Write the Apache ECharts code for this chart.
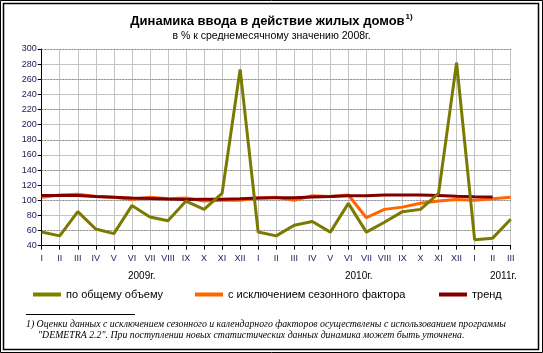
<!DOCTYPE html>
<html>
<head>
<meta charset="utf-8">
<script src="https://cdn.jsdelivr.net/npm/echarts@6/dist/echarts.min.js"></script>
<style>
  html, body { margin: 0; padding: 0; background: #fff; }
  #chart { width: 543px; height: 353px; }
</style>
</head>
<body>
<div id="chart"></div>
<script>
// месяцы 2009 - III 2011
var months = ['I', 'II', 'III', 'IV', 'V', 'VI', 'VII', 'VIII', 'IX', 'X', 'XI', 'XII',
  'I', 'II', 'III', 'IV', 'V', 'VI', 'VII', 'VIII', 'IX', 'X', 'XI', 'XII',
  'I', 'II', 'III']
var years = ['2009г.', '2010г.', '2011г.']
var totalVolume = [58, 53, 85, 62, 56, 93, 78, 73, 99, 88, 109, 273,
  58, 53, 67, 72, 58, 96, 58, 71, 85, 88, 109, 282,
  48, 50, 75]
var seasonAdj = [104, 107, 108, 105, 104, 101, 104, 102, 103, 99, 100, 100,
  103, 104, 100, 106, 105, 107, 77, 88, 91, 96, 99, 101,
  100, 102, 104]
var trend = [106.5, 106.5, 106.5, 105, 104, 103, 102.5, 101.7, 101.2, 101.5, 101.5, 102,
  103, 103.4, 103.5, 104.3, 105, 106, 106, 107, 107, 107, 106.5, 105.5,
  104.8, 104.3, '-']
var yTicks = { min: 40, max: 300, step: 20 }
var dottedLines = [60, 100, 140, 180, 220, 260, 300]

var names = ['по общему объему', 'с исключением сезонного фактора', 'тренд']

;(function () {
  var myChart = echarts.init(document.getElementById('chart'))
  var font = 'Liberation Sans, Arial, sans-serif'
  var serif = 'italic 9.8px Liberation Serif, Times New Roman, serif'

  // по одной легенде на серию, чтобы поставить их как в оригинале
  function legendAt(name, left) {
    return {
      data: [name],
      left: left,
      top: 289,
      padding: 0,
      icon: 'rect',
      itemWidth: 28,
      itemHeight: 4,
      textStyle: { fontSize: 11, color: '#000', fontFamily: font }
    }
  }

  var option = {
    animation: false,
    textStyle: { fontFamily: font },
    title: {
      text: '{t|Динамика ввода в действие жилых домов}{s|1)}',
      subtext: 'в % к среднемесячному значению 2008г.',
      left: 'center',
      top: 8,
      itemGap: 3,
      textStyle: {
        rich: {
          t: { fontSize: 13, fontWeight: 'bold', color: '#000', fontFamily: font },
          s: { fontSize: 8, fontWeight: 'bold', color: '#000', fontFamily: font, verticalAlign: 'top', padding: [0, 0, 8, 1] }
        }
      },
      subtextStyle: { fontSize: 10.5, color: '#000', fontFamily: font }
    },
    grid: { left: 41.7, right: 32.3, top: 49, bottom: 107.3, containLabel: false },
    legend: [
      legendAt(names[0], 33),
      legendAt(names[1], 195),
      legendAt(names[2], 439)
    ],
    xAxis: {
      type: 'category',
      boundaryGap: false,
      data: months,
      axisLine: { lineStyle: { color: '#000', width: 1 } },
      axisTick: { show: true, length: 4, lineStyle: { color: '#000' } },
      axisLabel: { color: '#1a1a50', fontSize: 9, margin: 8, interval: 0 },
      splitLine: { show: true, lineStyle: { color: '#c4c4c4', width: 1 } }
    },
    yAxis: {
      type: 'value',
      min: yTicks.min,
      max: yTicks.max,
      interval: yTicks.step,
      axisLine: { show: true, lineStyle: { color: '#000', width: 1 } },
      axisTick: { show: true, length: 4, lineStyle: { color: '#000' } },
      axisLabel: { color: '#1a1a50', fontSize: 9, margin: 5 },
      splitLine: { show: true, lineStyle: { color: '#c4c4c4', width: 1 } }
    },
    series: [
      {
        name: names[1],
        type: 'line',
        data: seasonAdj,
        z: 3,
        symbol: 'none',
        color: '#ff6600',
        lineStyle: { color: '#ff6600', width: 3 },
        // пунктирные линии сетки
        markLine: {
          silent: true,
          z: 1,
          symbol: ['none', 'none'],
          label: { show: false },
          lineStyle: { type: [1, 2], color: '#707070', width: 1 },
          data: dottedLines.map(function (v) { return { yAxis: v } })
        }
      },
      {
        name: names[2],
        type: 'line',
        data: trend,
        z: 4,
        symbol: 'none',
        color: '#800000',
        lineStyle: { color: '#800000', width: 3 }
      },
      {
        name: names[0],
        type: 'line',
        data: totalVolume,
        z: 5,
        symbol: 'none',
        color: '#808000',
        lineStyle: { color: '#7a7a00', width: 3 }
      }
    ],
    graphic: [
      { type: 'rect', shape: { x: 0.5, y: 0.5, width: 542, height: 352 }, style: { fill: 'none', stroke: '#000', lineWidth: 1 }, silent: true },
      { type: 'rect', shape: { x: 3.5, y: 3.5, width: 535, height: 346 }, style: { fill: 'none', stroke: '#000', lineWidth: 1.5 }, silent: true },
      { type: 'text', left: 128, top: 271, style: { text: years[0], font: '10px ' + font, fill: '#000' } },
      { type: 'text', left: 345, top: 271, style: { text: years[1], font: '10px ' + font, fill: '#000' } },
      { type: 'text', left: 490, top: 271, style: { text: years[2], font: '10px ' + font, fill: '#000' } },
      { type: 'line', shape: { x1: 26, y1: 314.5, x2: 135, y2: 314.5 }, style: { stroke: '#000', lineWidth: 1 }, silent: true },
      {
        type: 'text', left: 26, top: 319,
        style: {
          text: '1) Оценки данных с исключением сезонного и календарного факторов осуществлены с использованием программы',
          font: serif, fill: '#000'
        }
      },
      {
        type: 'text', left: 38, top: 330,
        style: {
          text: '"DEMETRA 2.2". При поступлении новых статистических данных динамика может быть уточнена.',
          font: serif, fill: '#000'
        }
      }
    ]
  }
  myChart.setOption(option)

  window.addEventListener('resize', function () {
    myChart.resize()
  })
})();
</script>
</body>
</html>
